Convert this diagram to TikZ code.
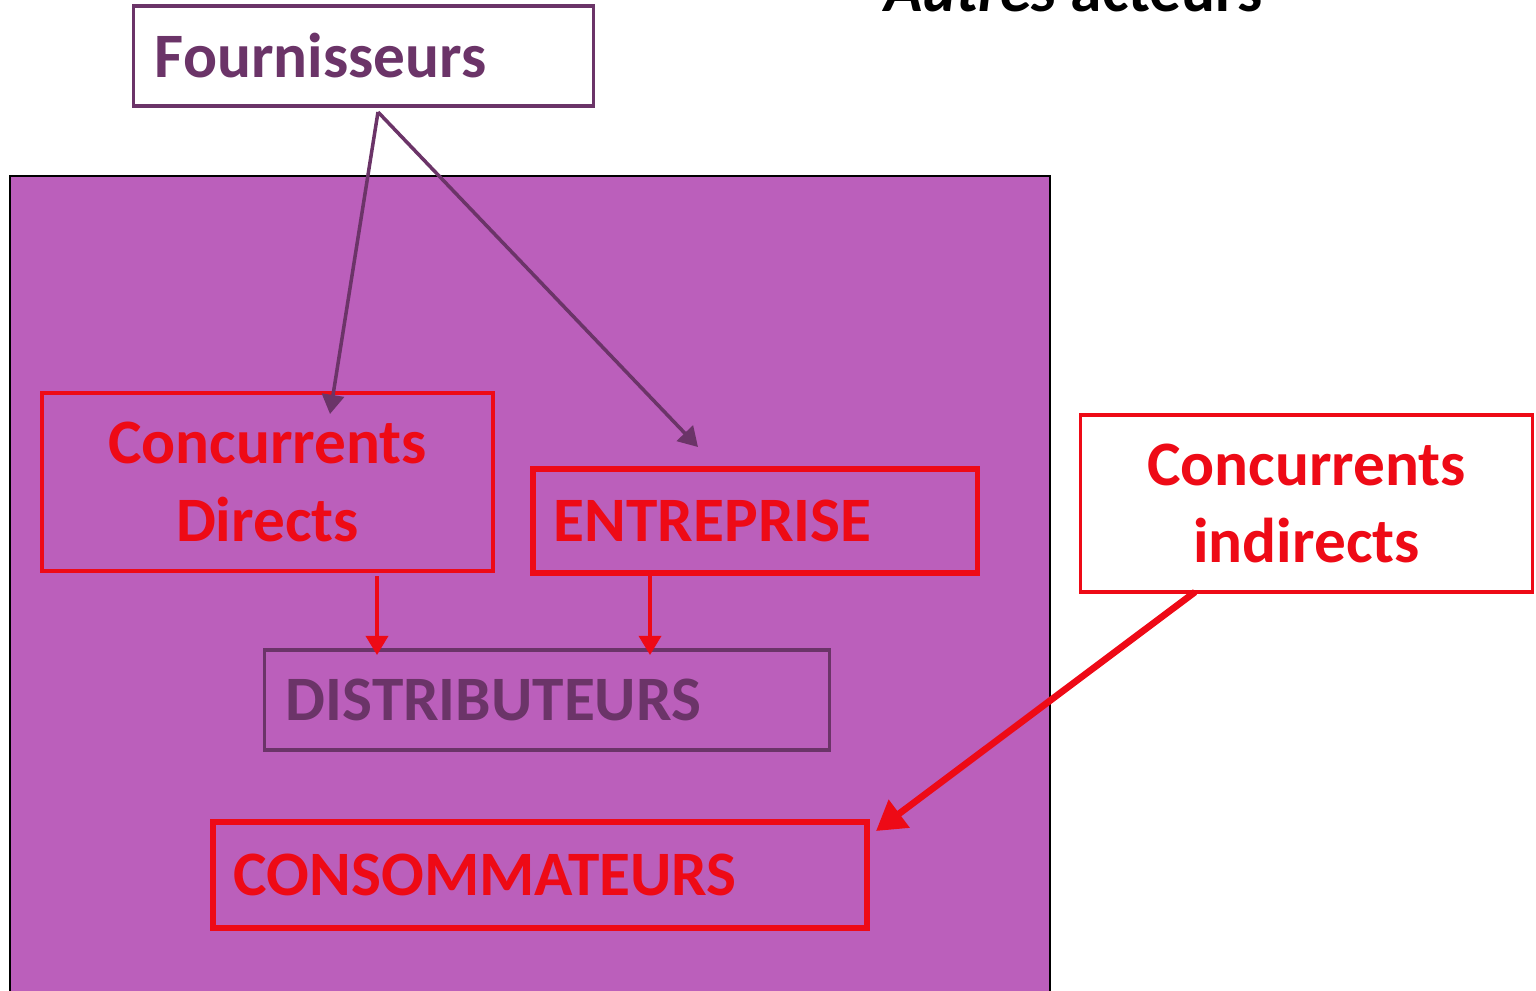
\documentclass[tikz,border=0pt]{standalone}
\usepackage{fontspec}
\setmainfont{Carlito}
\usetikzlibrary{positioning}
\usetikzlibrary{arrows.meta}
\definecolor{fondviolet}{HTML}{BB5FBB}
\definecolor{traitviolet}{HTML}{6B3468}
\definecolor{rouge}{HTML}{EE0A16}

\begin{document}
\begin{tikzpicture}[x=0.01cm,y=-0.01cm,>={Triangle[]},
    boite/.style={draw,rectangle,inner ysep=0pt,inner xsep=0.21cm,font=\fontsize{18}{22}\selectfont\bfseries},
    gauche/.style={align=left,text width=#1}]
    \useasboundingbox (0,0) rectangle (1536,990);
    \fill[fondviolet,draw=black,line width=0.5pt] (10,176) rectangle (1050,1010);
    \node[anchor=base west,font=\fontsize{18}{22}\selectfont\bfseries] (titre) at (872,11) {\textit{Autres} acteurs};
    \node[boite,draw=traitviolet,fill=white,text=traitviolet,line width=0.9pt,minimum height=1cm,gauche=4.17cm] (fourn) at (363.5,56) {Fournisseurs};
    \node[boite,draw=rouge,text=rouge,line width=1.1pt,minimum width=4.51cm,minimum height=1.78cm,align=center] (cd) at (267.5,482) {Concurrents\\Directs};
    \node[boite,draw=rouge,text=rouge,line width=1.5pt,minimum height=1.04cm,gauche=4.02cm] (entr) at (755,521) {ENTREPRISE};
    \node[boite,draw=traitviolet,text=traitviolet,line width=0.9pt,minimum height=1cm,gauche=5.22cm] (dist) at (547,700) {DISTRIBUTEURS};
    \node[boite,draw=rouge,text=rouge,line width=1.8pt,minimum height=1.06cm,gauche=6.12cm] (cons) at (540,875) {CONSOMMATEURS};
    \node[boite,draw=rouge,fill=white,text=rouge,line width=0.9pt,minimum width=4.51cm,minimum height=1.77cm,align=center] (ci) at (1306.5,503.5) {Concurrents\\indirects};
    % bouts des fleches
    \coordinate (depart) at (378,112);
    \coordinate (versCD) at (330,414);
    \coordinate (versEntr) at (698,447);
    \coordinate (sousCD) at (377,576);
    \coordinate (surDistA) at (377,655);
    \coordinate (sousEntr) at (650,576);
    \coordinate (surDistB) at (650,655);
    \coordinate (sousCI) at (1195,592);
    \coordinate (versCons) at (876,831);
    \draw[->,traitviolet,line width=1pt] (depart) -- (versCD);
    \draw[->,traitviolet,line width=1pt] (depart) -- (versEntr);
    \draw[->,rouge,line width=1pt] (sousCD) -- (surDistA);
    \draw[->,rouge,line width=1pt] (sousEntr) -- (surDistB);
    \draw[->,rouge,line width=1.9pt] (sousCI) -- (versCons);
\end{tikzpicture}
\end{document}
